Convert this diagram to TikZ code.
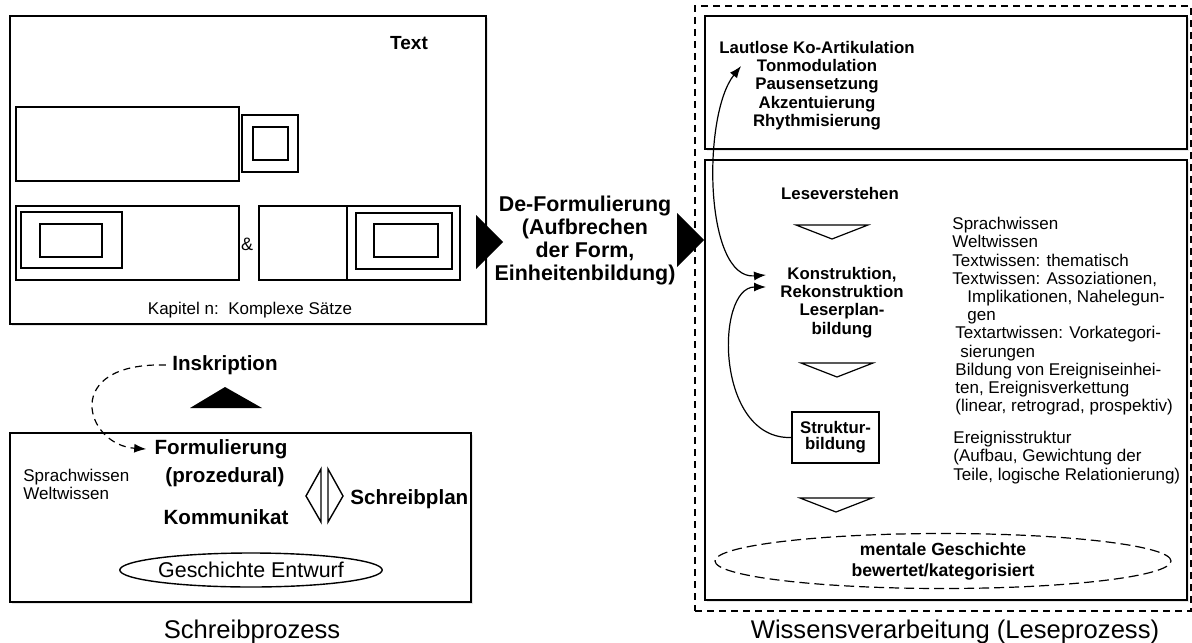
\documentclass[tikz,border=0pt]{standalone}
\usepackage{fontspec}
\setmainfont{Liberation Sans}
\usetikzlibrary{positioning,arrows.meta,shapes.geometric,fit,shadows}

\newcommand{\fsize}[2]{\fontsize{#1}{#2}\selectfont}

\begin{document}
\begin{tikzpicture}[x=0.5pt, y=-0.5pt,
			box/.style={
				draw,
				fill=white,
				line width=0.9pt,
				inner sep=0pt,
				drop shadow={opacity=0.2, shadow xshift=1pt, shadow yshift=-1pt}},
			thinbox/.style={draw, line width=0.6pt},
			fliess/.style={inner sep=0pt, align=left, font=\fsize{8.5}{9.1}},
			fett/.style={inner sep=0pt, align=center, font=\bfseries\fsize{8.4}{9.1}},
			grossfett/.style={inner sep=0pt, font=\bfseries\fsize{10.3}{14}},
			titel/.style={inner sep=0pt, font=\fsize{12.8}{14}},
			opentri/.style={draw, fill=white, line width=0.6pt},
			>={Latex[length=6pt,width=4.5pt]}]
			
			\useasboundingbox (0,0) rectangle (1192,642);
			
			% Text
			\node[box, fit={(10,16) (486,324)}] (textbox) {};
			\node[inner sep=0pt, font=\bfseries\fsize{9.5}{11}] (textlbl) at (409,43) {Text};
			
			\foreach \xa/\ya/\xb/\yb in {16/107/239/181, 242/115/298/172, 253/127/288/160,
				16/206/239/280, 21/212/122/268, 40/224/102/257,
				259/206/347/280, 347/206/460/280, 356/213/452/269, 374/224/438/257}
				\draw[thinbox] (\xa,\ya) rectangle (\xb,\yb);
			
			\node[inner sep=0pt, font=\fsize{9}{10}] (amp) at (247,244) {\&};
			\node[fliess] (kapitel) at (250,310) {Kapitel n:\ \ Komplexe Sätze};
			
			% Schreibprozess
			\node[grossfett] (inskr) at (225,365) {Inskription};
			\fill (190,408) -- (225,387) -- (262,408) -- cycle;
			
			\node[box, fit={(10,433) (471,602)}] (schreibbox) {};
			\node[grossfett, anchor=north] (formul) at (221,439) {Formulierung};
			\node[grossfett, anchor=north] (prozed) at (225,467) {(prozedural)};
			\node[grossfett] (komm) at (226,517) {Kommunikat};
			\node[grossfett, anchor=west] (plan) at (350,499) {Schreibplan};
			\node[fliess, anchor=north west, font=\fsize{8.5}{9}] (sprach) at (23,469) {Sprachwissen\\Weltwissen};
			
			\draw[line width=0.7pt] (321,469) -- (306,496) -- (321,522) -- cycle;
			\draw[line width=0.7pt] (328,469) -- (343,496) -- (328,522) -- cycle;
			
			\node[draw, ellipse, line width=0.7pt, minimum width=126pt, minimum height=17pt,
				inner sep=0pt, font=\fsize{10.7}{12}] (entwurf) at (251,570) {Geschichte Entwurf};
			
			\node[titel] (schreibt) at (252,632) {Schreibprozess};
			
			% De-Formulierung
			\fill (476,215) -- (503,242) -- (476,269) -- cycle;
			\node[inner sep=0pt, align=center, font=\bfseries\fsize{10.7}{11.5}, anchor=north] (deform) at (585,196)
				{De-Formulierung\\(Aufbrechen\\der Form,\\Einheitenbildung)};
			\fill (677,213) -- (704,240) -- (677,267) -- cycle;
			
			% Leseprozess
			\node[draw, dashed, dash pattern=on 3.5pt off 2.5pt, line width=0.6pt, inner sep=0pt,
				fit={(695,6) (1191,611)}] (wissen) {};
			\node[box, fit={(705,16) (1187,149)}] (artik) {};
			\node[box, fit={(705,160) (1187,600)}] (verst) {};
			
			\node[fett, anchor=north] (lautl) at (817,41)
				{Lautlose Ko-Artikulation\\Tonmodulation\\Pausensetzung\\Akzentuierung\\Rhythmisierung};
			
			\node[fett] (lesev) at (840,193) {Leseverstehen};
			\node[fett, anchor=north] (konstr) at (842,267) {Konstruktion,\\Rekonstruktion\\Leserplan-\\bildung};
			\node[draw, line width=0.7pt, minimum width=43.5pt, minimum height=25.5pt, align=center,
				font=\bfseries\fsize{8.4}{8}] (struk) at (835.5,437.5) {Struktur-\\bildung};
			
			\foreach \cx/\cy in {832/225, 837/363, 836/498}
				\draw[opentri] (\cx-36,\cy) -- (\cx+36,\cy) -- (\cx,\cy+14) -- cycle;
			
			\node[draw, dashed, dash pattern=on 5pt off 2.5pt, ellipse, line width=0.6pt,
				minimum width=228pt, minimum height=27.5pt, inner sep=0pt, align=center,
				font=\bfseries\fsize{8.8}{10.5}] (mental) at (943,561) {mentale Geschichte\\bewertet/kategorisiert};
			
			\node[fliess, anchor=north west] (wisstext) at (952,217)
				{Sprachwissen\\Weltwissen\\Textwissen: thematisch\\Textwissen: Assoziationen,\\
				\hspace*{7.5pt}Implikationen, Nahelegun-\\\hspace*{7.5pt}gen\\
				\hspace*{1.5pt}Textartwissen: Vorkategori-\\\hspace*{4pt}sierungen\\
				\hspace*{1.5pt}Bildung von Ereigniseinhei-\\\hspace*{1.5pt}ten, Ereignisverkettung\\
				\hspace*{1.5pt}(linear, retrograd, prospektiv)};
			\node[fliess, anchor=north west] (struktext) at (953,431)
				{Ereignisstruktur\\(Aufbau, Gewichtung der\\Teile, logische Relationierung)};
			
			\node[titel] (wissent) at (955,632) {Wissensverarbeitung (Leseprozess)};
			
			% Verbindungen
			\draw[->, dashed, dash pattern=on 3.5pt off 2.5pt, line width=0.6pt]
				([xshift=-3pt]inskr.west) .. controls (60,362) and (85,445) .. ([xshift=-4pt]formul.west);
			\draw[<->, line width=0.6pt]
				([shift={(22,25)}]lautl.north west) .. controls (702,115) and (704,280) .. ([shift={(-14,8)}]konstr.north west);
			\draw[->, line width=0.6pt]
				(struk.west) .. controls (715,440) and (715,287) .. ([shift={(-14,20)}]konstr.north west);
			
		\end{tikzpicture}
\end{document}
